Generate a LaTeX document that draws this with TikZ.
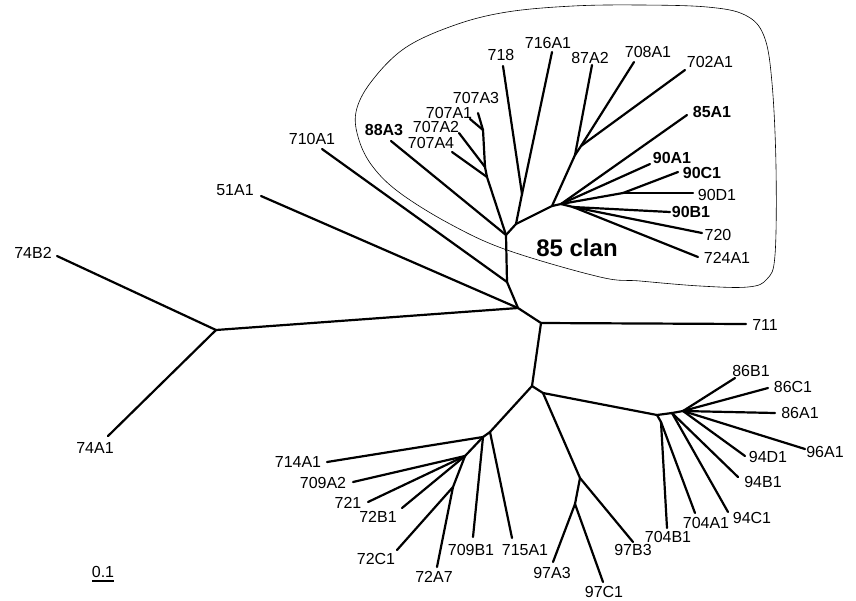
\documentclass[tikz,border=0pt]{standalone}
\usepackage{fontspec}
\setmainfont{Liberation Sans}
\usetikzlibrary{positioning}

\begin{document}
\begin{tikzpicture}[x=1pt,y=-1pt,
    ramo/.style={line width=2.2pt,line cap=round},
    nome/.style={font=\fontsize{16}{18}\selectfont,inner sep=0pt},
    nomeb/.style={font=\fontsize{16}{18}\selectfont\bfseries,inner sep=0pt}]
    \useasboundingbox (0,0) rectangle (856,600);
    %nodi interni
    \coordinate (n74) at (216,330);
    \coordinate (nC) at (518,308);
    \coordinate (nB) at (507,282);
    \coordinate (nA) at (506,235);
    \coordinate (nE) at (541,323);
    \coordinate (nL1) at (532,386);
    \coordinate (nL2) at (490,432);
    \coordinate (nL3) at (543,393);
    %clan 85
    \coordinate (n707a) at (487,177);
    \coordinate (n707b) at (485,167);
    \coordinate (n707c) at (483,130);
    \coordinate (nQ) at (516,224);
    \coordinate (n718) at (522,194);
    \coordinate (nR) at (552,206);
    \coordinate (nS1) at (575,155);
    \coordinate (nS2) at (581,146);
    \coordinate (nF1) at (561,204);
    \coordinate (nF2) at (573,207);
    \coordinate (nCD) at (623,193);
    %gruppo 72
    \coordinate (n72a) at (483,437);
    \coordinate (n72b) at (465,456);
    \coordinate (n72c) at (453,487);
    %gruppo 86 e 94
    \coordinate (nH) at (657,415);
    \coordinate (n704) at (661,422);
    \coordinate (nH2) at (672,413);
    \coordinate (nH3) at (683,411);
    %gruppo 97
    \coordinate (nK) at (580,478);
    \coordinate (nK2) at (575,504);
    %foglie ed etichette
    \foreach \n/\x/\y/\lx/\ly in {74B2/57/256/33/253, 74A1/108/436/95/448,
      51A1/261/196/235/190, 710A1/322/149/312/139,
      707A4/452/152/431/143, 707A2/459/133/436/127, 707A1/470/119/449/113,
      707A3/478/113/476/98, 718/503/66/501/55, 716A1/552/52/548/43,
      87A2/592/65/590/58, 708A1/634/62/648/52, 702A1/685/70/710/62,
      90D1/693/193/717/195, 720/702/233/718/235, 724A1/698/257/727/258,
      711/746/324/765/325,
      86B1/735/378/751/371, 86C1/768/388/793/387, 86A1/775/413/800/413,
      96A1/805/449/825/452, 94D1/745/456/768/457, 94B1/738/477/763/482,
      94C1/728/512/752/518, 704A1/695/513/706/523, 704B1/667/528/668/537,
      97B3/633/542/633/550, 97A3/553/562/552/573, 97C1/603/582/604/592,
      715A1/512/538/525/550, 709B1/473/537/471/550, 72A7/437/567/434/577,
      72C1/397/550/376/559, 72B1/402/508/378/517, 721/368/502/348/503,
      709A2/353/482/323/483, 714A1/327/462/298/462} {
      \coordinate (t\n) at (\x,\y);
      \node[nome] (l\n) at (\lx,\ly) {\n};
    }
    \foreach \n/\x/\y/\lx/\ly in {88A3/391/141/384/130, 85A1/687/115/712/112,
      90A1/650/164/672/158, 90C1/678/172/702/173, 90B1/670/212/691/212} {
      \coordinate (t\n) at (\x,\y);
      \node[nomeb] (l\n) at (\lx,\ly) {\n};
    }
    %rami
    \foreach \a/\b in {nC/n74, n74/t74B2, n74/t74A1, nC/t51A1, nC/nB,
      nB/t710A1, nB/nA, nC/nE, nE/t711, nE/nL1, nL1/nL2, nL1/nL3,
      nA/t88A3, nA/n707a, n707a/t707A4, n707a/n707b, n707b/t707A2,
      n707b/n707c, n707c/t707A1, n707c/t707A3, nA/nQ, nQ/n718, n718/t718,
      n718/t716A1, nQ/nR, nR/nS1, nS1/t87A2, nS1/nS2, nS2/t708A1,
      nS2/t702A1, nR/nF1, nF1/t85A1, nF1/t90A1, nF1/nCD, nCD/t90C1,
      nCD/t90D1, nF1/nF2, nF2/t90B1, nF2/t720, nF2/t724A1,
      nL2/t715A1, nL2/n72a, n72a/t714A1, n72a/t709B1, n72a/n72b,
      n72b/t709A2, n72b/t721, n72b/t72B1, n72b/n72c, n72c/t72C1,
      n72c/t72A7, nL3/nH, nH/n704, n704/t704B1, n704/t704A1, nH/nH2,
      nH2/t94C1, nH2/t94B1, nH2/nH3, nH3/t94D1, nH3/t96A1, nH3/t86A1,
      nH3/t86C1, nH3/t86B1, nL3/nK, nK/t97B3, nK/nK2, nK2/t97A3,
      nK2/t97C1}
      \draw[ramo] (\a) -- (\b);
    %contorno del clan
    \draw[line width=0.6pt] plot[smooth cycle, tension=0.6] coordinates {
      (356,112) (371,82) (405,48) (455,25) (507,12) (573,6) (640,5)
      (707,7) (745,15) (764,36) (772,83) (776,167) (775,255) (767,279)
      (748,287) (700,286) (640,281) (600,277) (507,250) (450,224)
      (400,193) (373,167) (359,140)};
    \node[font=\fontsize{24}{28}\selectfont\bfseries,inner sep=0pt] (clan) at (577,248) {85 clan};
    %scala
    \node[nome] (scala) at (103,572) {0.1};
    \coordinate (s1) at (92,581);
    \coordinate (s2) at (114,581);
    \draw[line width=2pt] (s1) -- (s2);
\end{tikzpicture}
\end{document}
